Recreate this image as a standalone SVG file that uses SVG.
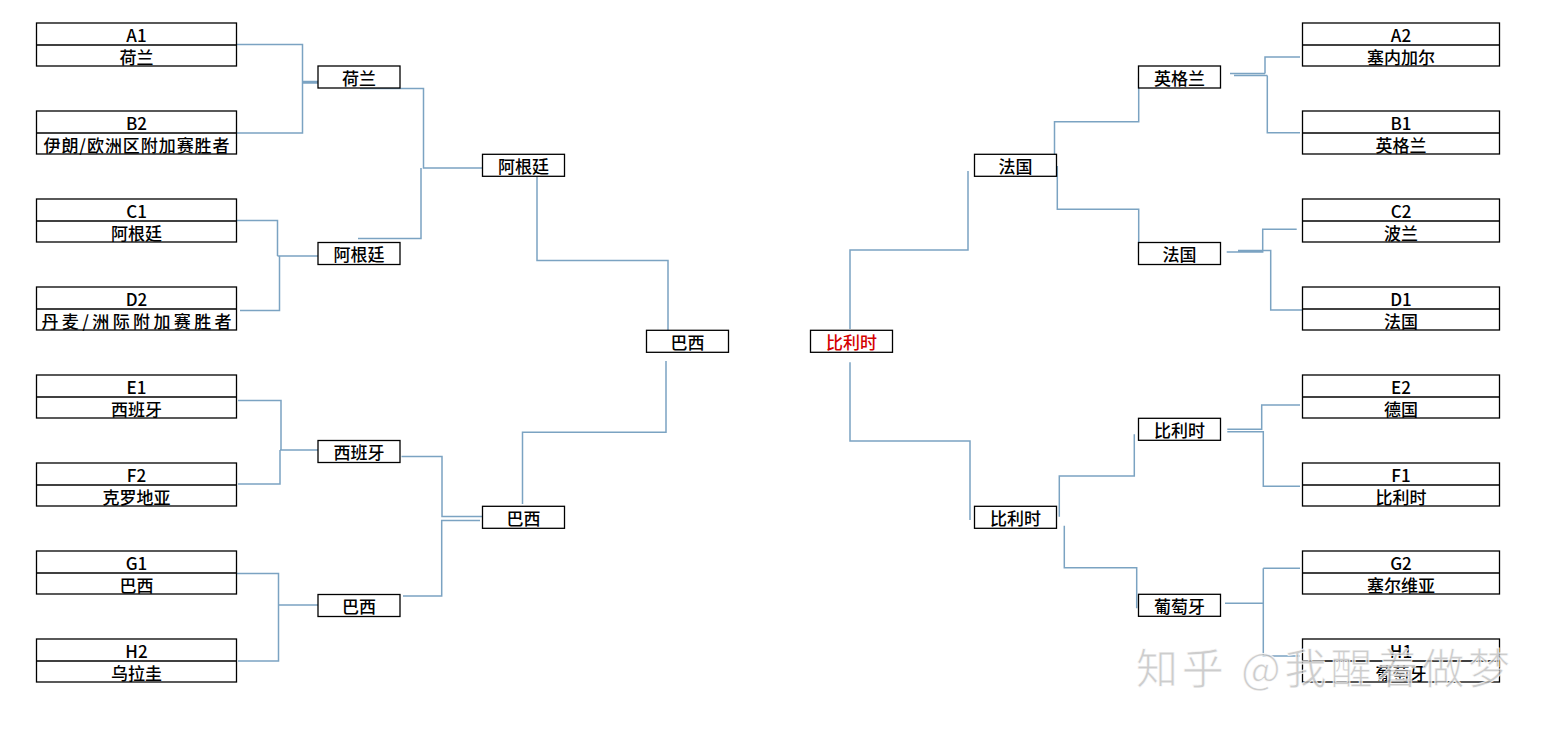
<svg xmlns="http://www.w3.org/2000/svg" width="1558" height="740" viewBox="0 0 1558 740">
<style>
.bx{fill:#fff;stroke:#000;stroke-width:1.3}
.dv{stroke:#000;stroke-width:1.3}
.t{font-family:"Noto Sans CJK SC","Noto Sans",sans-serif;font-size:17px;font-weight:500;fill:#000;text-anchor:middle;dominant-baseline:central}
.red{fill:#d40000}
.c path{fill:none;stroke:#7ba3c2;stroke-width:1.5}
.wm{font-family:"Noto Sans CJK SC","Noto Sans",sans-serif;font-size:42px;fill:#bdbdbd;fill-opacity:0.75;stroke:#fff;stroke-width:1;stroke-opacity:0.8}
</style>
<rect width="1558" height="740" fill="#fff"/>
<g class="c" id="connectors">
<path d="M236,44.5 H302.5 V133 H232"/>
<path d="M302.5,81.5 H370 M302.5,83 H365"/>
<path d="M360,88.5 H423.5 V168 H487"/>
<path d="M358,238.5 H421 V168"/>
<path d="M236,220.5 H277.5 V256 M279.5,256 V310.5 H240 M277.5,256 H320"/>
<path d="M537,176 V260.5 H668 V343"/>
<path d="M238,400.5 H281 V450 M280,450 V484 H238 M280,450 H323"/>
<path d="M401.5,456.5 H442 V516.5 H483"/>
<path d="M403,596 H441.7 V520.5 H480"/>
<path d="M237,573.5 H278.5 V661 H238 M278.5,605 H318"/>
<path d="M522.5,504 V432.3 H666 V361"/>
<path d="M850,329 V250 H968 V171"/>
<path d="M1054.5,166 V121.7 H1138.7 V78"/>
<path d="M1057.3,166 V209.3 H1138.7 V252.7"/>
<path d="M1230,73.5 H1265 M1234,75.5 H1267.3 M1265,73.5 V57 H1300 M1267.3,75.5 V132.7 H1300"/>
<path d="M1226.7,252 H1262.7 V229.3 H1296.7 M1238,250.5 H1270.7 V310 H1303"/>
<path d="M850,362.3 V441 H970 V520"/>
<path d="M1059.3,516.7 V476 H1134.3 V434.3"/>
<path d="M1064.3,525.7 V567.7 H1136.7 V608.3"/>
<path d="M1227.3,429.3 H1261.7 V405 H1300 M1227.3,431.7 H1263.3 V486.3 H1300"/>
<path d="M1225,603.3 H1263.3 M1263.3,568.3 V656 H1300 M1263.3,568.3 H1300"/>
</g>
<!-- left groups -->
<g id="gA1"><rect class="bx" x="36.5" y="23" width="200" height="43"/><line class="dv" x1="36.5" y1="45" x2="236.5" y2="45"/><text class="t" x="136.5" y="34.5">A1</text><text class="t" x="136.5" y="56">荷兰</text></g>
<g id="gB2"><rect class="bx" x="36.5" y="111" width="200" height="43"/><line class="dv" x1="36.5" y1="133" x2="236.5" y2="133"/><text class="t" x="136.5" y="122.5">B2</text><text class="t" x="136.5" y="144" textLength="186" lengthAdjust="spacing">伊朗/欧洲区附加赛胜者</text></g>
<g id="gC1"><rect class="bx" x="36.5" y="199" width="200" height="43"/><line class="dv" x1="36.5" y1="221" x2="236.5" y2="221"/><text class="t" x="136.5" y="210.5">C1</text><text class="t" x="136.5" y="232">阿根廷</text></g>
<g id="gD2"><rect class="bx" x="36.5" y="287" width="200" height="43"/><line class="dv" x1="36.5" y1="309" x2="236.5" y2="309"/><text class="t" x="136.5" y="298.5">D2</text><text class="t" x="136.5" y="320" textLength="190" lengthAdjust="spacing">丹麦/洲际附加赛胜者</text></g>
<g id="gE1"><rect class="bx" x="36.5" y="375" width="200" height="43"/><line class="dv" x1="36.5" y1="397" x2="236.5" y2="397"/><text class="t" x="136.5" y="386.5">E1</text><text class="t" x="136.5" y="408">西班牙</text></g>
<g id="gF2"><rect class="bx" x="36.5" y="463" width="200" height="43"/><line class="dv" x1="36.5" y1="485" x2="236.5" y2="485"/><text class="t" x="136.5" y="474.5">F2</text><text class="t" x="136.5" y="496">克罗地亚</text></g>
<g id="gG1"><rect class="bx" x="36.5" y="551" width="200" height="43"/><line class="dv" x1="36.5" y1="573" x2="236.5" y2="573"/><text class="t" x="136.5" y="562.5">G1</text><text class="t" x="136.5" y="584">巴西</text></g>
<g id="gH2"><rect class="bx" x="36.5" y="639" width="200" height="43"/><line class="dv" x1="36.5" y1="661" x2="236.5" y2="661"/><text class="t" x="136.5" y="650.5">H2</text><text class="t" x="136.5" y="672">乌拉圭</text></g>
<!-- right groups -->
<g id="gA2"><rect class="bx" x="1302.5" y="23" width="197" height="43"/><line class="dv" x1="1302.5" y1="45" x2="1499.5" y2="45"/><text class="t" x="1401" y="34.5">A2</text><text class="t" x="1401" y="56">塞内加尔</text></g>
<g id="gB1"><rect class="bx" x="1302.5" y="111" width="197" height="43"/><line class="dv" x1="1302.5" y1="133" x2="1499.5" y2="133"/><text class="t" x="1401" y="122.5">B1</text><text class="t" x="1401" y="144">英格兰</text></g>
<g id="gC2"><rect class="bx" x="1302.5" y="199" width="197" height="43"/><line class="dv" x1="1302.5" y1="221" x2="1499.5" y2="221"/><text class="t" x="1401" y="210.5">C2</text><text class="t" x="1401" y="232">波兰</text></g>
<g id="gD1"><rect class="bx" x="1302.5" y="287" width="197" height="43"/><line class="dv" x1="1302.5" y1="309" x2="1499.5" y2="309"/><text class="t" x="1401" y="298.5">D1</text><text class="t" x="1401" y="320">法国</text></g>
<g id="gE2"><rect class="bx" x="1302.5" y="375" width="197" height="43"/><line class="dv" x1="1302.5" y1="397" x2="1499.5" y2="397"/><text class="t" x="1401" y="386.5">E2</text><text class="t" x="1401" y="408">德国</text></g>
<g id="gF1"><rect class="bx" x="1302.5" y="463" width="197" height="43"/><line class="dv" x1="1302.5" y1="485" x2="1499.5" y2="485"/><text class="t" x="1401" y="474.5">F1</text><text class="t" x="1401" y="496">比利时</text></g>
<g id="gG2"><rect class="bx" x="1302.5" y="551" width="197" height="43"/><line class="dv" x1="1302.5" y1="573" x2="1499.5" y2="573"/><text class="t" x="1401" y="562.5">G2</text><text class="t" x="1401" y="584">塞尔维亚</text></g>
<g id="gH1"><rect class="bx" x="1302.5" y="639" width="197" height="43"/><line class="dv" x1="1302.5" y1="661" x2="1499.5" y2="661"/><text class="t" x="1401" y="650.5">H1</text><text class="t" x="1401" y="672">葡萄牙</text></g>
<!-- left rounds -->
<g id="r16-nl"><rect class="bx" x="318" y="66" width="82" height="22"/><text class="t" x="359" y="77">荷兰</text></g>
<g id="r16-ar"><rect class="bx" x="318" y="242.5" width="82" height="22"/><text class="t" x="359" y="253.5">阿根廷</text></g>
<g id="r16-es"><rect class="bx" x="318" y="440.5" width="82" height="22"/><text class="t" x="359" y="451.5">西班牙</text></g>
<g id="r16-br"><rect class="bx" x="318" y="594.5" width="82" height="22"/><text class="t" x="359" y="605.5">巴西</text></g>
<g id="qf-ar"><rect class="bx" x="482.5" y="154.3" width="82" height="22"/><text class="t" x="523.5" y="165.3">阿根廷</text></g>
<g id="qf-br"><rect class="bx" x="482.5" y="506.3" width="82" height="22"/><text class="t" x="523.5" y="517.3">巴西</text></g>
<g id="sf-br"><rect class="bx" x="646.5" y="330.3" width="82" height="22"/><text class="t" x="687.5" y="341.3">巴西</text></g>
<g id="sf-be"><rect class="bx" x="810.5" y="330.3" width="82" height="22"/><text class="t red" x="851.5" y="341.3">比利时</text></g>
<!-- right rounds -->
<g id="qf-fr"><rect class="bx" x="974.5" y="154.3" width="82" height="22"/><text class="t" x="1015.5" y="165.3">法国</text></g>
<g id="qf-be"><rect class="bx" x="974.5" y="506.3" width="82" height="22"/><text class="t" x="1015.5" y="517.3">比利时</text></g>
<g id="r16-en"><rect class="bx" x="1138.5" y="66" width="82" height="22"/><text class="t" x="1179.5" y="77">英格兰</text></g>
<g id="r16-fr"><rect class="bx" x="1138.5" y="242.5" width="82" height="22"/><text class="t" x="1179.5" y="253.5">法国</text></g>
<g id="r16-be"><rect class="bx" x="1138.5" y="418.3" width="82" height="22"/><text class="t" x="1179.5" y="429.3">比利时</text></g>
<g id="r16-pt"><rect class="bx" x="1138.5" y="594.3" width="82" height="22"/><text class="t" x="1179.5" y="605.3">葡萄牙</text></g>
<text class="wm" x="1136" y="684" textLength="374" lengthAdjust="spacing">知乎 @我醒着做梦</text>
</svg>
